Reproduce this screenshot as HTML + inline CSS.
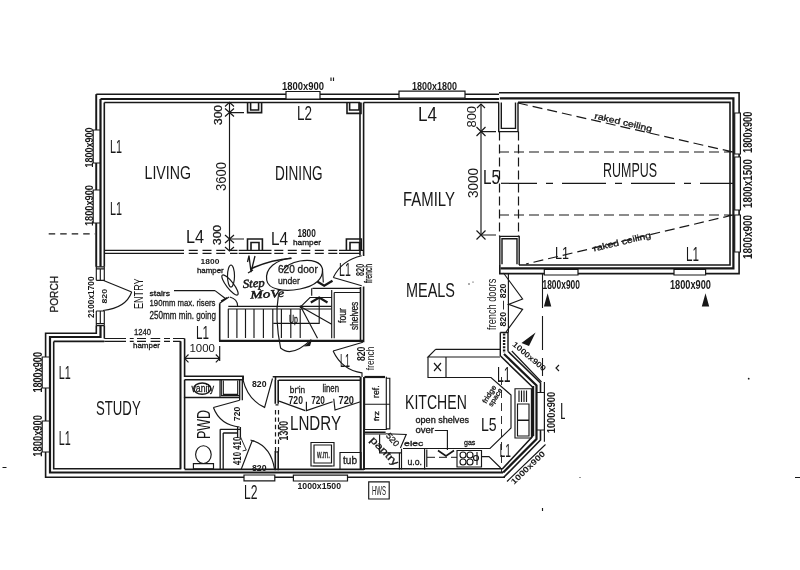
<!DOCTYPE html>
<html><head><meta charset="utf-8">
<style>
html,body{margin:0;padding:0;background:#fff;width:800px;height:570px;overflow:hidden}
svg{display:block;will-change:transform}
text{font-family:"Liberation Sans",sans-serif;fill:#181818}
.w{stroke:#181818;fill:none;stroke-width:1.6}
.t{stroke:#181818;fill:none;stroke-width:2.2}
.f{stroke:#181818;fill:none;stroke-width:1.15}
.h{stroke:#181818;fill:none;stroke-width:1.6}
.d{stroke:#181818;fill:none;stroke-width:1.2;stroke-dasharray:6 5}
.wi{stroke:#181818;fill:#fff;stroke-width:1.2}
.k{fill:#181818;stroke:none}
</style></head><body>
<svg width="800" height="570" viewBox="0 0 800 570">
<path class="w" d="M96.3,94.2 H499" />
<path class="t" d="M100.5,99 H499" />
<path class="w" d="M104.3,102.5 H360 M363.6,102.5 H499" />
<path class="w" d="M499,92.7 H739.1 V273.6 H499.8 V265" />
<path class="t" d="M499.8,98.4 H733.4 V268.3 H500.5" />
<path class="w" d="M518,102.4 H730 V265 H519" />
<path class="w" d="M96.3,94.2 V266.8 M96.3,325.6 V333.3 H45.6 V477.3 H505" />
<path class="t" d="M100.5,99 V266.8 M100.5,325.6 V337 H50 V472.5 H503" />
<path class="w" d="M104.3,102.5 V266.8 M104.3,325.6 V338.5 M184.6,338.5 V376.3 H243.1 V379.7" />
<path class="w" d="M53.7,341.4 H104.3 M180.5,341.4 V468.75 H53.7 V341.4" />
<path class="w" d="M104.3,338.5 H126 M173,338.5 H184.6 M104.3,341.4 H126 M173,341.4 H180.5" style="stroke-width:1.2"/>
<path class="w" d="M129.8,338.5 H133.7 M137,338.5 H146 M150.6,338.5 H160.2 M164,338.5 H170 M129.8,341.4 H133.7 M137,341.4 H146 M150.6,341.4 H160.2 M164,341.4 H170" style="stroke-width:1.2"/>
<path class="f" d="M96.3,266.8 H104.3 M96.3,268.8 H104.3 M96.3,280.3 H104.3 V266.8 M96.3,280.3 V266.8 M100.3,268.8 V280.3" />
<path class="f" d="M96.3,311 H104.3 M96.3,323.6 H104.3 M96.3,325.6 H104.3 M96.3,311 V325.6 M104.3,311 V325.6 M100.3,311 V323.6" />
<path class="f" d="M103,280.3 L131.7,292" />
<path class="f" d="M131.7,292 Q126,308 103,310.5" />
<path class="w" d="M104.3,250.4 H184 M104.3,253.4 H184 M238.7,250.4 H271.5 M238.7,253.4 H271.5 M339,250.4 H363 M339,253.4 H360" style="stroke-width:1.4"/>
<path class="d" d="M188.75,250.4 H237.5 M188.75,253.4 H237.5" style="stroke-dasharray:9 4.75;stroke-width:1.4"/>
<path class="d" d="M274.3,250.4 H339 M274.3,253.4 H339" style="stroke-dasharray:9 4.5;stroke-width:1.4"/>
<path class="w" d="M247.5,251 V239 H262.4 V251 M251,250.4 V242.5 H259 V250.4" />
<path class="w" d="M346.4,251 V239 H361.3 V251 M350,250.4 V242.5 H359.5 V250.4" />
<path class="w" d="M247.6,102.5 V112.6 H261.6 V102.5 M250.6,102.5 V110 H258.6 V102.5" />
<path class="w" d="M347,102.5 V113.4 H361 V102.5 M349.6,102.5 V110 H359 V102.5" />
<path class="w" d="M360,102.5 V255.6 M363.6,102.5 V256" />
<path class="w" d="M360.5,287 V342 M363.6,286.5 V342.3" />
<path class="f" d="M361.7,285.8 L333.3,277.5" />
<path class="f" d="M333.3,277.5 Q342,260 361.7,255.8" />
<path class="f" d="M362.9,342.25 L333.1,351" />
<path class="f" d="M333.1,351 Q342,370 362,372.9 V377" />
<path class="f" d="M229.5,102.4 V251 M229.5,112.6 H244 M229.5,239 H244" />
<path class="f" d="M225,106.5 L229.5,102.4 L234,106.5 M225,108.5 L234,116.5 M234,108.5 L225,116.5" />
<path class="f" d="M225,247 L229.5,251 L234,247 M225,235 L234,243 M234,235 L225,243" />
<path class="f" d="M498.7,102.6 V131.6 H518 V102.6 M501.3,102.6 V128.4 H515.5 V102.6" style="stroke-width:1.4"/>
<path class="f" d="M499.8,265 V236.4 H519.2 V265 M502,264.3 V238.7 H517 V264.3" style="stroke-width:1.4"/>
<path class="d" d="M499.5,131.6 V236.4 M518.5,131.6 V236.4" style="stroke-dasharray:9 4"/>
<path class="d" d="M518,103 L733,152 M499,152 H733 M499,215 H733 M733,215 L526,264" style="stroke-dasharray:10 5"/>
<path class="d" d="M501,183.3 H733" style="stroke-dasharray:44 9 7 9;stroke-dashoffset:8"/>
<path class="wi" d="M734.7,113 H740.4 V154 H734.7 Z M734.7,157 H740.4 V210 H734.7 Z M734.7,215 H740.4 V252 H734.7 Z" />
<path class="wi" d="M544.3,269.5 H578 V275 H544.3 Z M674,269.5 H705.6 V275 H674 Z" />
<path class="f" d="M481,104 V235 M481,131.6 H496 M481,235 H496" />
<path class="f" d="M477,108 L481,104 L485,108 M476.5,127 L485.5,136 M485.5,127 L476.5,136 M476.5,230.5 L485.5,239.5 M485.5,230.5 L476.5,239.5" />
<path class="w" d="M500.3,332.5 V356 M508,332.5 V351.5 M500.3,332.5 H508" style="stroke-width:1.4"/>
<path class="w" d="M504.1,333.5 V353" style="stroke-width:2.4;stroke-dasharray:2 1.2"/>
<path class="f" d="M508.4,273.7 V332.7" />
<path class="f" d="M503.5,273 L522.6,299 L508.4,304.4 L522.6,309.4 L506,332" />
<path class="d" d="M542.5,274 V376" style="stroke-dasharray:34 8;stroke-width:1.1"/>
<path class="f" d="M542.5,508 V511" />
<path class="k" d="M543.9,306.4 L547.6,293.2 L551.3,306.4 Z M701.8,306.4 L705.5,293.2 L709.2,306.4 Z M521.5,343 L535.6,332.5 L529,346 Z" />
<path class="wi" d="M286,91.5 H320 V99 H286 Z" />
<path class="wi" d="M399,91.2 H465 V98.2 H399 Z" />
<path class="wi" d="M93.2,130 H100 V163 H93.2 Z M93.2,190 H100 V223 H93.2 Z" />
<path class="wi" d="M42.2,357 H49.5 V388 H42.2 Z M42.2,421 H49.5 V452 H42.2 Z" />
<path class="wi" d="M244,475 H274.8 V480.8 H244 Z M293.4,475.2 H347.5 V481 H293.4 Z" />
<path class="w" d="M96.3,94.2 V130 M96.3,163 V190 M96.3,223 V266.8" />
<path class="w" d="M180.5,341.2 V468.75" />
<path class="w" d="M184.6,379.7 V469" />
<path class="w" d="M184.6,379.7 H243.1 V376.3" />
<path class="w" d="M272.7,376.75 H360.5 M275.5,376.75 V380 M278.5,380.3 H360.5" />
<path class="w" d="M183.9,397.5 H239.7" style="stroke-width:1.3"/>
<path class="f" d="M220,379.8 V397.5" />
<path class="f" d="M221.3,379.8 V395.6 H239.7 M223.3,380.5 V394.3 H237.7 V380.5" />
<ellipse cx="202.2" cy="388.6" rx="8.5" ry="5.6" class="f" style="stroke-width:1.4"/>
<path class="w" d="M239.7,379.8 V400.2 M242.3,379.8 V400.2" style="stroke-width:1.3"/>
<path class="w" d="M237.6,427 V437.5 M240.4,427 V437.5" style="stroke-width:1.3"/>
<path class="w" d="M220.2,429.3 H240.4 M223.2,433 H237.6 M220.2,429.3 V469.5 M223.2,433 V469.5" style="stroke-width:1.3"/>
<path class="f" d="M240.4,436.7 L246.3,450.1 L242.6,450.9" style="stroke-width:0.9"/>
<ellipse cx="203.4" cy="454.6" rx="7.8" ry="8.9" class="f"/>
<path class="f" d="M193.4,463.6 H213.5 V468.8 H193.4 Z" />
<path class="f" d="M239.7,400.2 L213.4,407.5" />
<path class="f" d="M213.4,407.5 Q220,425 239.6,427" />
<path class="f" d="M243,379.8 Q248,400 264.6,407.4 L272.5,378.5" />
<path class="f" d="M241.1,469.5 L252.3,440.5 M250.5,440 L254,441.2" />
<path class="f" d="M252.3,440.5 Q271,446 274.6,469.5" />
<path class="w" d="M275.3,380 V403.7 M278.2,380 V403.7 M275.3,451 V470.3 M278.2,451 V470.3" />
<path class="d" d="M275.5,410 V452 M278.5,410 V452" style="stroke-dasharray:4.4 3"/>
<path class="f" d="M275.5,404.8 H278.5 M275.5,452 H278.5" />
<path class="w" d="M360.5,377 V470 M364,377 V470" />
<path class="f" d="M279.1,401.1 L305.25,410.6 M306.4,401.7 V410.6 L332.6,401.7 M333.75,398.7 L335,410 L360.5,401.7" />
<path class="f" d="M311,442.5 H334 V466 H311 Z M314,445 H331.5 V463 H314 Z" />
<path class="t" d="M313,466 H332" style="stroke:#666;stroke-width:2"/>
<path class="f" d="M340,452.5 H361 V469.5 H340 Z" />
<path class="f" d="M368.7,481.8 H389.2 V499 H368.7 Z" />
<path class="w" d="M500.5,356 L532.5,387 V436.5 L502.5,468.8 H364" />
<path class="t" d="M504,354 L536.5,385.5 V439 L503.2,472.5" />
<path class="w" d="M508.2,351.5 L540.5,383 V440 L503.8,477.3" />
<path class="f" d="M511.8,351 L541.5,382 M544.4,382 V441.8 M507,481.5 L545.5,444.5" />
<path class="wi" d="M537,392.5 H544.4 V430 H537 Z" />
<path class="w" d="M533.4,386 V436" />
<path class="w" d="M360.7,377 V470 M364,377 V470" />
<path class="f" d="M435.6,349.4 H500 M435.6,349.4 L428,357 H500 M428,357 V377.5 H491 L511,395 V428 L490,448.5 H403" />
<path class="f" d="M446,357 V377.5 M434,363 L441,371 M441,363 L434,371" />
<path class="f" d="M364.6,376.8 V429.5 H386.3 V376.8 M364.6,404.2 H389.8 M386.3,378.2 H389.8 V428.8 H386.3" />
<path class="t" d="M364.6,377 H385" style="stroke-width:2.2"/>
<path class="f" d="M364.6,432.3 H385.6" style="stroke-width:1.6"/>
<path class="f" d="M364.2,434 H386 M399.4,452.8 V469.5" />
<path class="f" d="M385.9,433.8 L406.2,434.5 L400.4,448" />
<path class="f" d="M379.6,434.5 V452.8 H401.5" />
<path class="f" d="M401.5,448.7 V469.5 M424.6,448.7 V469.5 M426.8,449.6 V467" />
<path class="d" d="M427,457.3 H457" style="stroke-dasharray:8 4;stroke-width:1"/>
<path class="f" d="M434.8,430.5 H447.4 V450" />
<path class="h" d="M438,450.5 L446,456 L454,450.5" />
<path class="f" d="M457,450.5 H481.5 V467 H457 Z M477,452 V465 M481.5,456.6 H489 L500.7,468" />
<g class="f"><circle cx="463" cy="455" r="3"/><circle cx="470" cy="455" r="3"/><circle cx="463" cy="462" r="3"/><circle cx="470" cy="462" r="3"/><circle cx="476" cy="458" r="2.5"/></g>
<path class="f" d="M515,388.7 H531.4 V438 H515 Z M517.5,404 H529 V420 H517.5 Z M517.5,420.5 H529 V436 H517.5 Z" />
<path class="f" d="M519,390.5 V402 M521.5,390.5 V402 M524,390.5 V402 M526.5,390.5 V402" />
<path class="d" d="M501.5,377 V473" style="stroke-dasharray:8 5;stroke-width:0.9"/>
<path class="f" d="M228.3,306.4 H331.4 M228.3,309 H331.4" />
<path class="f" d="M228.3,308.75 V338 M236.9,309 V338 M245.5,309 V338 M254,309 V338 M263.4,309 V338 M272.8,309 V338 M281.4,309 V338 M290.8,309 V338 M300.2,309 V338" />
<path class="t" d="M219,340.8 H363.7" />
<path class="w" d="M219.7,303.3 V340.8" />
<path class="f" d="M219.7,303.3 L229,297 M221,301 L227,297.5 M229.8,297 Q237.5,299 237.6,306" />
<path class="f" d="M273.3,323.3 H319.2 V297.5 M300.8,306.7 L331.7,324.2 M300.8,306.7 L317.5,338.3 M300.8,306.7 L310,297.5 H331.7" />
<path class="f" d="M311.7,288.3 V295.8 M312.5,288.3 H360 M322.5,269 L323.3,282.5" />
<path class="h" d="M317.5,281.7 L324.2,285.8 L332.5,280.8" style="stroke-width:2.2"/>
<path class="h" d="M310.8,302.5 L319.2,297.5 L327.5,302.5" style="stroke-width:2.2"/>
<circle cx="300.8" cy="306.7" r="1.2" class="k"/>
<path class="f" d="M334.2,292.5 H360 M334.2,292.5 V338.3 M331.7,290 V338.3" />
<path class="f" d="M215,290.6 L174,290.6 M215,290.6 L226,299" />
<path class="f" d="M291,258 C276,260 265,268 266.7,280 C268,290 285,292 300,289 C315,286 323,279 322.5,269 C321,262 312,259 300,261 C290,263 285,267 283,270" style="stroke-width:1.2"/>
<path class="h" d="M251,268.75 Q270,260 291.6,258.25" />
<path class="f" d="M247.5,262 L249,255.6 L251,272 L255,256 M248,273 L253,270" style="stroke-width:1.3"/>
<ellipse cx="231" cy="276" rx="3.5" ry="11" class="f"/>
<ellipse cx="230" cy="285" rx="3.5" ry="12.5" transform="rotate(-38 230 285)" class="f"/>
<path class="f" d="M278.3,296.3 C276,310 277,330 280.6,348 Q292,358 311.2,339.6" style="stroke-width:1.2"/>
<path class="k" d="M304,346.6 L312,339.6 L310,346 Z" />
<text x="282.0" y="89.5" font-size="10.71" textLength="42.0" lengthAdjust="spacingAndGlyphs" style="font-weight:bold;">1800x900</text>
<path class="f" d="M331,77.5 V81 M333.5,77.5 V81" />
<text x="412.0" y="89.5" font-size="10.00" textLength="45.0" lengthAdjust="spacingAndGlyphs" style="font-weight:bold;">1800x1800</text>
<text x="297.0" y="119.5" font-size="19.29" textLength="15.0" lengthAdjust="spacingAndGlyphs">L2</text>
<text transform="translate(221.5,125.0) rotate(-90)" font-size="10.14" textLength="20.0" lengthAdjust="spacingAndGlyphs" style="stroke:#181818;stroke-width:0.3;">300</text>
<text transform="translate(92.5,167.5) rotate(-90)" font-size="11.43" textLength="40.0" lengthAdjust="spacingAndGlyphs" style="font-weight:bold;">1800x900</text>
<text transform="translate(92.5,226.0) rotate(-90)" font-size="11.43" textLength="41.0" lengthAdjust="spacingAndGlyphs" style="font-weight:bold;">1800x900</text>
<text x="110.0" y="152.5" font-size="18.57" textLength="12.0" lengthAdjust="spacingAndGlyphs">L1</text>
<text x="110.0" y="215.0" font-size="17.86" textLength="12.0" lengthAdjust="spacingAndGlyphs">L1</text>
<text x="144.5" y="179.0" font-size="18.57" textLength="46.5" lengthAdjust="spacingAndGlyphs">LIVING</text>
<text x="275.0" y="179.5" font-size="20.00" textLength="47.5" lengthAdjust="spacingAndGlyphs">DINING</text>
<text transform="translate(226.0,191.0) rotate(-90)" font-size="14.29" textLength="29.0" lengthAdjust="spacingAndGlyphs">3600</text>
<text x="186.0" y="242.5" font-size="18.57" textLength="18.0" lengthAdjust="spacingAndGlyphs">L4</text>
<text transform="translate(221.0,245.0) rotate(-90)" font-size="10.00" textLength="20.0" lengthAdjust="spacingAndGlyphs" style="stroke:#181818;stroke-width:0.3;">300</text>
<text x="271.0" y="244.5" font-size="17.86" textLength="17.0" lengthAdjust="spacingAndGlyphs">L4</text>
<text x="297.4" y="237.2" font-size="10.00" textLength="18.4" lengthAdjust="spacingAndGlyphs" style="font-weight:bold;">1800</text>
<text x="293.0" y="245.3" font-size="7.53" textLength="28.0" lengthAdjust="spacingAndGlyphs" style="stroke:#181818;stroke-width:0.3;">hamper</text>
<text x="418.0" y="121.0" font-size="20.00" textLength="19.0" lengthAdjust="spacingAndGlyphs">L4</text>
<text transform="translate(476.0,127.5) rotate(-90)" font-size="12.14" textLength="21.5" lengthAdjust="spacingAndGlyphs">800</text>
<text transform="translate(477.5,198.0) rotate(-90)" font-size="15.00" textLength="30.0" lengthAdjust="spacingAndGlyphs">3000</text>
<text x="483.0" y="184.0" font-size="20.00" textLength="17.0" lengthAdjust="spacingAndGlyphs">L5</text>
<text x="403.0" y="206.0" font-size="20.00" textLength="52.0" lengthAdjust="spacingAndGlyphs">FAMILY</text>
<text x="406.0" y="296.5" font-size="20.00" textLength="49.0" lengthAdjust="spacingAndGlyphs">MEALS</text>
<text x="603.0" y="176.5" font-size="20.71" textLength="54.0" lengthAdjust="spacingAndGlyphs">RUMPUS</text>
<text transform="translate(594.0,118.5) rotate(13)" font-size="8.50" textLength="59.0" lengthAdjust="spacingAndGlyphs" style="stroke:#181818;stroke-width:0.3">raked ceiling</text>
<text transform="translate(594.0,251.5) rotate(-13.5)" font-size="8.50" textLength="59.0" lengthAdjust="spacingAndGlyphs" style="stroke:#181818;stroke-width:0.3">raked ceiling</text>
<text x="555.0" y="259.0" font-size="17.14" textLength="14.0" lengthAdjust="spacingAndGlyphs">L1</text>
<text x="686.0" y="261.0" font-size="20.00" textLength="13.0" lengthAdjust="spacingAndGlyphs">L1</text>
<text transform="translate(751.5,153.0) rotate(-90)" font-size="12.71" textLength="41.5" lengthAdjust="spacingAndGlyphs" style="font-weight:bold;">1800x900</text>
<text transform="translate(751.5,208.0) rotate(-90)" font-size="12.71" textLength="49.0" lengthAdjust="spacingAndGlyphs" style="font-weight:bold;">1800x1500</text>
<text transform="translate(751.5,259.0) rotate(-90)" font-size="12.71" textLength="44.0" lengthAdjust="spacingAndGlyphs" style="font-weight:bold;">1800x900</text>
<text x="542.5" y="288.5" font-size="12.86" textLength="37.5" lengthAdjust="spacingAndGlyphs" style="font-weight:bold;">1800x900</text>
<text x="670.0" y="288.5" font-size="12.86" textLength="41.0" lengthAdjust="spacingAndGlyphs" style="font-weight:bold;">1800x900</text>
<text transform="translate(496.2,330.0) rotate(-90)" font-size="12.08" textLength="51.3" lengthAdjust="spacingAndGlyphs">french doors</text>
<text transform="translate(506.0,326.6) rotate(-90)" font-size="9.71" textLength="43.1" lengthAdjust="spacingAndGlyphs" style="font-weight:bold;">820 — 820</text>
<text x="200.6" y="264.4" font-size="8.07" textLength="18.8" lengthAdjust="spacingAndGlyphs" style="font-weight:bold;">1800</text>
<text x="196.9" y="273.4" font-size="7.53" textLength="26.8" lengthAdjust="spacingAndGlyphs" style="stroke:#181818;stroke-width:0.3;">hamper</text>
<text x="149.5" y="295.5" font-size="7.64" textLength="20.5" lengthAdjust="spacingAndGlyphs" style="stroke:#181818;stroke-width:0.3;">stairs</text>
<text x="149.5" y="306.0" font-size="9.72" textLength="66.0" lengthAdjust="spacingAndGlyphs" style="stroke:#181818;stroke-width:0.3;">190mm max. risers</text>
<text x="149.5" y="318.7" font-size="10.75" textLength="66.5" lengthAdjust="spacingAndGlyphs" style="stroke:#181818;stroke-width:0.3;">250mm min. going</text>
<text transform="translate(142.7,309.0) rotate(-90)" font-size="12.43" textLength="30.6" lengthAdjust="spacingAndGlyphs">ENTRY</text>
<text transform="translate(107.0,303.5) rotate(-90)" font-size="7.14" textLength="14.5" lengthAdjust="spacingAndGlyphs" style="font-weight:bold;">820</text>
<text transform="translate(93.5,318.0) rotate(-90)" font-size="9.71" textLength="41.5" lengthAdjust="spacingAndGlyphs" style="font-weight:bold;">2100x1700</text>
<text transform="translate(57.5,312.5) rotate(-90)" font-size="10.71" textLength="36.5" lengthAdjust="spacingAndGlyphs" style="stroke:#181818;stroke-width:0.3;">PORCH</text>
<text x="196.0" y="339.0" font-size="18.57" textLength="13.0" lengthAdjust="spacingAndGlyphs">L1</text>
<text x="189.4" y="351.5" font-size="11.79" textLength="25.5" lengthAdjust="spacingAndGlyphs">1000</text>
<path class="f" d="M184.6,358.4 H219.7 M219.7,346 V361 M188.5,354.5 L184.6,358.4 L188.5,362.3 M215.8,354.5 L219.7,358.4 L215.8,362.3" />
<text x="134.0" y="335.0" font-size="8.57" textLength="17.0" lengthAdjust="spacingAndGlyphs" style="stroke:#181818;stroke-width:0.3;">1240</text>
<text x="133.0" y="348.4" font-size="7.53" textLength="27.0" lengthAdjust="spacingAndGlyphs" style="stroke:#181818;stroke-width:0.3;">hamper</text>
<text transform="translate(42.4,392.6) rotate(-90)" font-size="12.86" textLength="40.6" lengthAdjust="spacingAndGlyphs" style="font-weight:bold;">1800x900</text>
<text transform="translate(42.4,456.7) rotate(-90)" font-size="12.86" textLength="41.7" lengthAdjust="spacingAndGlyphs" style="font-weight:bold;">1800x900</text>
<text x="58.7" y="379.0" font-size="18.57" textLength="12.0" lengthAdjust="spacingAndGlyphs">L1</text>
<text x="58.7" y="445.0" font-size="20.00" textLength="12.0" lengthAdjust="spacingAndGlyphs">L1</text>
<text x="96.0" y="415.0" font-size="19.29" textLength="44.7" lengthAdjust="spacingAndGlyphs">STUDY</text>
<text x="277.9" y="273.4" font-size="10.56" textLength="39.9" lengthAdjust="spacingAndGlyphs" style="stroke:#181818;stroke-width:0.3;">620 door</text>
<text x="277.9" y="284.4" font-size="9.58" textLength="22.0" lengthAdjust="spacingAndGlyphs" style="stroke:#181818;stroke-width:0.3;">under</text>
<text x="339.0" y="276.0" font-size="18.57" textLength="11.8" lengthAdjust="spacingAndGlyphs">L1</text>
<text transform="translate(364.0,276.0) rotate(-90)" font-size="10.00" textLength="12.2" lengthAdjust="spacingAndGlyphs" style="font-weight:bold;">820</text>
<text transform="translate(372.0,283.0) rotate(-90)" font-size="10.42" textLength="19.2" lengthAdjust="spacingAndGlyphs" style="stroke:#181818;stroke-width:0.3;">french</text>
<text transform="translate(345.5,323.0) rotate(-90)" font-size="10.42" textLength="15.0" lengthAdjust="spacingAndGlyphs" style="stroke:#181818;stroke-width:0.3;">four</text>
<text transform="translate(357.5,330.0) rotate(-90)" font-size="10.42" textLength="28.3" lengthAdjust="spacingAndGlyphs" style="stroke:#181818;stroke-width:0.3;">shelves</text>
<text transform="translate(289.0,323.0) rotate(0)" font-size="10.00" textLength="9.0" lengthAdjust="spacingAndGlyphs" style="stroke:#181818;stroke-width:0.3">Up</text>
<text transform="translate(243.0,288.0) rotate(-4)" font-size="12.00" textLength="22.0" lengthAdjust="spacingAndGlyphs" style="font-family:'Liberation Serif';font-style:italic;stroke:#181818;stroke-width:0.5">Step</text>
<text transform="translate(250.5,298.5) rotate(-3)" font-size="11.00" textLength="34.0" lengthAdjust="spacingAndGlyphs" style="font-family:'Liberation Serif';font-style:italic;stroke:#181818;stroke-width:0.5">MoVe</text>
<text x="340.0" y="366.8" font-size="17.50" textLength="10.0" lengthAdjust="spacingAndGlyphs">L1</text>
<text transform="translate(365.0,361.0) rotate(-90)" font-size="10.57" textLength="14.4" lengthAdjust="spacingAndGlyphs" style="font-weight:bold;">820</text>
<text transform="translate(374.2,370.2) rotate(-90)" font-size="11.46" textLength="23.6" lengthAdjust="spacingAndGlyphs">french</text>
<text x="191.5" y="391.7" font-size="10.75" textLength="22.7" lengthAdjust="spacingAndGlyphs" style="stroke:#181818;stroke-width:0.3;">vanity</text>
<text x="252.0" y="386.6" font-size="8.86" textLength="14.5" lengthAdjust="spacingAndGlyphs" style="font-weight:bold;">820</text>
<text transform="translate(210.0,439.0) rotate(-90)" font-size="17.86" textLength="29.0" lengthAdjust="spacingAndGlyphs">PWD</text>
<text transform="translate(239.5,421.0) rotate(-90)" font-size="8.71" textLength="14.2" lengthAdjust="spacingAndGlyphs" style="font-weight:bold;">720</text>
<text transform="translate(241.0,465.0) rotate(-90)" font-size="11.43" textLength="28.3" lengthAdjust="spacingAndGlyphs" style="font-weight:bold;">410 410</text>
<text x="252.0" y="471.2" font-size="8.29" textLength="14.6" lengthAdjust="spacingAndGlyphs" style="font-weight:bold;">820</text>
<text transform="translate(288.0,440.4) rotate(-90)" font-size="12.86" textLength="19.4" lengthAdjust="spacingAndGlyphs" style="font-weight:bold;">1300</text>
<text x="289.8" y="392.8" font-size="9.86" textLength="15.4" lengthAdjust="spacingAndGlyphs" style="stroke:#181818;stroke-width:0.3;">br'in</text>
<text x="322.5" y="392.2" font-size="10.00" textLength="16.5" lengthAdjust="spacingAndGlyphs" style="stroke:#181818;stroke-width:0.3;">linen</text>
<text x="288.6" y="403.5" font-size="10.29" textLength="14.3" lengthAdjust="spacingAndGlyphs" style="font-weight:bold;">720</text>
<text x="311.2" y="403.5" font-size="10.29" textLength="13.7" lengthAdjust="spacingAndGlyphs" style="font-weight:bold;">720</text>
<text x="338.5" y="403.5" font-size="10.29" textLength="15.5" lengthAdjust="spacingAndGlyphs" style="font-weight:bold;">720</text>
<text x="290.0" y="430.0" font-size="20.00" textLength="51.0" lengthAdjust="spacingAndGlyphs">LNDRY</text>
<text x="317.0" y="457.5" font-size="10.58" textLength="13.0" lengthAdjust="spacingAndGlyphs" style="stroke:#181818;stroke-width:0.3;">w.m.</text>
<text x="343.0" y="463.5" font-size="10.42" textLength="14.0" lengthAdjust="spacingAndGlyphs" style="stroke:#181818;stroke-width:0.3;">tub</text>
<text x="297.5" y="489.0" font-size="9.29" textLength="43.5" lengthAdjust="spacingAndGlyphs" style="font-weight:bold;">1000x1500</text>
<text x="244.0" y="499.0" font-size="20.00" textLength="13.5" lengthAdjust="spacingAndGlyphs">L2</text>
<text x="372.0" y="495.0" font-size="12.14" textLength="14.0" lengthAdjust="spacingAndGlyphs">HWS</text>
<text transform="translate(379.3,397.9) rotate(-90)" font-size="8.75" textLength="12.6" lengthAdjust="spacingAndGlyphs" style="stroke:#181818;stroke-width:0.3;">ref.</text>
<text transform="translate(378.6,421.0) rotate(-90)" font-size="7.78" textLength="9.8" lengthAdjust="spacingAndGlyphs" style="stroke:#181818;stroke-width:0.3;">frz</text>
<text transform="translate(369.5,440.5) rotate(46)" font-size="10.00" textLength="36.0" lengthAdjust="spacingAndGlyphs" style="stroke:#181818;stroke-width:0.3">pantry</text>
<text transform="translate(385.5,436.0) rotate(48)" font-size="8.50" textLength="15.0" lengthAdjust="spacingAndGlyphs" style="stroke:#181818;stroke-width:0.3">520</text>
<text x="404.0" y="446.4" font-size="7.92" textLength="19.4" lengthAdjust="spacingAndGlyphs" style="stroke:#181818;stroke-width:0.3;">elec</text>
<text transform="translate(407.5,465.0) rotate(0)" font-size="9.50" textLength="14.5" lengthAdjust="spacingAndGlyphs" style="stroke:#181818;stroke-width:0.3">u.o.</text>
<text x="405.0" y="408.8" font-size="19.71" textLength="61.8" lengthAdjust="spacingAndGlyphs">KITCHEN</text>
<text x="415.5" y="422.8" font-size="8.28" textLength="53.5" lengthAdjust="spacingAndGlyphs" style="stroke:#181818;stroke-width:0.3;">open shelves</text>
<text transform="translate(415.5,432.5) rotate(0)" font-size="8.50" textLength="18.5" lengthAdjust="spacingAndGlyphs" style="stroke:#181818;stroke-width:0.3">over</text>
<text x="464.0" y="445.4" font-size="7.53" textLength="11.4" lengthAdjust="spacingAndGlyphs" style="stroke:#181818;stroke-width:0.3;">gas</text>
<text x="497.0" y="382.0" font-size="22.86" textLength="13.6" lengthAdjust="spacingAndGlyphs">L1</text>
<text x="481.0" y="431.0" font-size="19.14" textLength="15.7" lengthAdjust="spacingAndGlyphs">L5</text>
<text x="499.6" y="457.0" font-size="17.57" textLength="11.4" lengthAdjust="spacingAndGlyphs">L1</text>
<text transform="translate(486.0,404.0) rotate(-58)" font-size="7.00" textLength="20.0" lengthAdjust="spacingAndGlyphs" style="stroke:#181818;stroke-width:0.3">fridge</text>
<text transform="translate(492.0,407.0) rotate(-58)" font-size="7.00" textLength="20.0" lengthAdjust="spacingAndGlyphs" style="stroke:#181818;stroke-width:0.3">space</text>
<text transform="translate(511.8,345.3) rotate(40)" font-size="8.00" textLength="41.0" lengthAdjust="spacingAndGlyphs" style="font-weight:bold">1000x900</text>
<text transform="translate(555.4,433.3) rotate(-90)" font-size="11.00" textLength="41.5" lengthAdjust="spacingAndGlyphs" style="font-weight:bold;">1000x900</text>
<text transform="translate(514.0,485.0) rotate(-44)" font-size="8.00" textLength="44.0" lengthAdjust="spacingAndGlyphs" style="font-weight:bold">1000x900</text>
<path class="f" d="M559,365 L556,368 L559,371 M561.7,403 V418.4 H565" />
<path class="d" d="M48.7,233.8 H95" style="stroke-dasharray:6.5 5;stroke-width:1.2"/>
<path class="f" d="M2.5,467.5 H6.5 M795,477.5 H800 M747,256 H752" />
<circle cx="748.7" cy="378.7" r="0.9" class="k"/><circle cx="580" cy="477.5" r="0.6" class="k"/><circle cx="469" cy="284" r="0.7" class="k"/><circle cx="473" cy="282" r="0.6" class="k"/>
<path class="w" d="M184.6,469.4 H364" />
</svg>
</body></html>
